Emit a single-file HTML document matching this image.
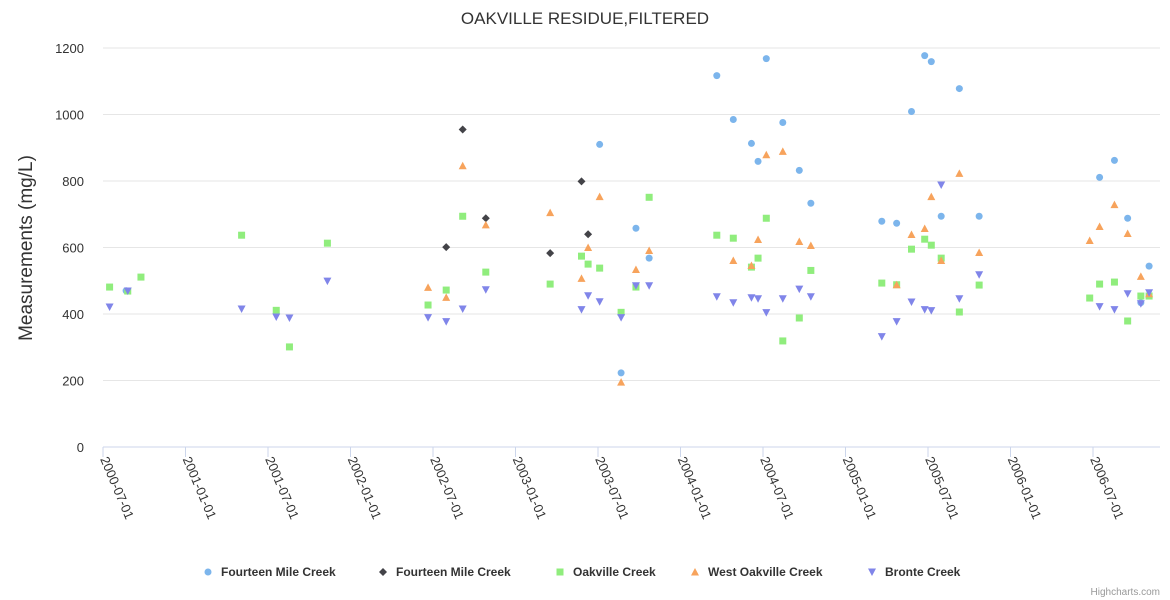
<!DOCTYPE html>
<html><head><meta charset="utf-8">
<style>
body{margin:0;background:#fff;}
svg{display:block;font-family:"Liberation Sans",sans-serif;}
</style></head>
<body>
<svg id="chart" width="1170" height="600">
<text x="585" y="24" text-anchor="middle" font-size="17" fill="#333">OAKVILLE RESIDUE,FILTERED</text>
<text transform="translate(32,248) rotate(-90)" text-anchor="middle" font-size="19" fill="#333">Measurements (mg/L)</text>
<g id="grid"></g><g id="xaxis"></g><g id="series"></g><g id="legend"></g>
<text x="1160" y="595" text-anchor="end" font-size="10" fill="#999">Highcharts.com</text>
</svg>
<script>
const yTicks=[0,200,400,600,800,1000,1200];
const xTickYears=[2000.5,2001,2001.5,2002,2002.5,2003,2003.5,2004,2004.5,2005,2005.5,2006,2006.5];
const xTickLabels=["2000-07-01","2001-01-01","2001-07-01","2002-01-01","2002-07-01","2003-01-01","2003-07-01","2004-01-01","2004-07-01","2005-01-01","2005-07-01","2006-01-01","2006-07-01"];
const seriesNames=["Fourteen Mile Creek","Fourteen Mile Creek","Oakville Creek","West Oakville Creek","Bronte Creek"];
const seriesColors=["#7cb5ec","#434348","#90ed7d","#f7a35c","#8085e9"];
const seriesSymbols=["circle","diamond","square","triangle","triangle-down"];
const fourteenX=[2000.64,2003.51,2003.64,2003.73,2003.81,2004.22,2004.32,2004.43,2004.47,2004.52,2004.62,2004.72,2004.79,2005.22,2005.31,2005.40,2005.48,2005.52,2005.58,2005.69,2005.81,2006.54,2006.63,2006.71,2006.79,2006.84];
const fourteenY=[470,910,223,658,568,1117,985,913,859,1168,976,832,733,679,673,1009,1177,1159,694,1078,694,811,862,688,434,544];
const fourteen2X=[2002.58,2002.68,2002.82,2003.21,2003.40,2003.44];
const fourteen2Y=[601,955,688,583,799,640];
const oakX=[2000.54,2000.65,2000.73,2001.34,2001.55,2001.63,2001.86,2002.47,2002.58,2002.68,2002.82,2003.21,2003.40,2003.44,2003.51,2003.64,2003.73,2003.81,2004.22,2004.32,2004.43,2004.47,2004.52,2004.62,2004.72,2004.79,2005.22,2005.31,2005.40,2005.48,2005.52,2005.58,2005.69,2005.81,2006.48,2006.54,2006.63,2006.71,2006.79,2006.84];
const oakY=[481,469,511,637,411,301,613,427,472,694,526,490,574,550,538,405,481,751,637,628,541,568,688,319,388,531,493,488,595,625,607,568,406,487,448,490,496,379,454,454];
const westX=[2002.47,2002.58,2002.68,2002.82,2003.21,2003.40,2003.44,2003.51,2003.64,2003.73,2003.81,2004.32,2004.43,2004.47,2004.52,2004.62,2004.72,2004.79,2005.31,2005.40,2005.48,2005.52,2005.58,2005.69,2005.81,2006.48,2006.54,2006.63,2006.71,2006.79,2006.84];
const westY=[480,450,846,668,705,507,600,753,195,534,591,561,546,624,879,889,618,606,488,639,657,753,561,823,585,621,663,729,642,513,461];
const bronteX=[2000.54,2000.65,2001.34,2001.55,2001.63,2001.86,2002.47,2002.58,2002.68,2002.82,2003.40,2003.44,2003.51,2003.64,2003.73,2003.81,2004.22,2004.32,2004.43,2004.47,2004.52,2004.62,2004.72,2004.79,2005.22,2005.31,2005.40,2005.48,2005.52,2005.58,2005.69,2005.81,2006.54,2006.63,2006.71,2006.79,2006.84];
const bronteY=[421,469,415,391,388,499,389,377,415,473,413,455,437,389,485,485,452,434,449,446,404,446,475,452,332,377,436,413,410,788,446,518,422,413,461,431,464];
const allX=[fourteenX,fourteen2X,oakX,westX,bronteX];
const allY=[fourteenY,fourteen2Y,oakY,westY,bronteY];

const NS="http://www.w3.org/2000/svg";
const L=103,R=1160,T=48,B=447;
const xMin=2000.5,xMax=2000.5+(R-L)/165;
const xs=v=>L+(v-xMin)/(xMax-xMin)*(R-L);
const ys=v=>B-v/1200*(B-T);
function mk(tag,attrs,parent){const e=document.createElementNS(NS,tag);for(const k in attrs)e.setAttribute(k,attrs[k]);parent.appendChild(e);return e;}
const grid=document.getElementById('grid');
yTicks.forEach(t=>{
  const l=mk('line',{x1:L,x2:R,y1:ys(t),y2:ys(t),stroke:t===0?'#ccd6eb':'#e6e6e6','stroke-width':1},grid);
  
  
  const tx=mk('text',{x:84,y:ys(t)+5,'text-anchor':'end','font-size':13,fill:'#333'},grid);
  tx.textContent=t;
  
  
});
const xa=document.getElementById('xaxis');
xTickYears.forEach((v,i)=>{
  const x=xs(v);
  const tk=mk('line',{x1:x,x2:x,y1:B,y2:B+10,stroke:'#ccd6eb'},xa);
  
  
  const tx=mk('text',{transform:`translate(${x-3},${B+12}) rotate(67)`,'font-size':13,fill:'#333'},xa);
  tx.textContent=xTickLabels[i];
  
  
});
function marker(sym,x,y,color,parent){
  let e;
  if(sym==='circle')e=mk('circle',{cx:x,cy:y,r:3.5,fill:color},parent);
  else if(sym==='diamond')e=mk('path',{d:`M${x},${y-4}L${x+4},${y}L${x},${y+4}L${x-4},${y}Z`,fill:color},parent);
  else if(sym==='square')e=mk('rect',{x:x-3.5,y:y-3.5,width:7,height:7,fill:color},parent);
  else if(sym==='triangle')e=mk('path',{d:`M${x},${y-4}L${x+4},${y+3.5}L${x-4},${y+3.5}Z`,fill:color},parent);
  else e=mk('path',{d:`M${x-4},${y-3.5}L${x+4},${y-3.5}L${x},${y+4}Z`,fill:color},parent);
  return e;
}
const sg=document.getElementById('series');
allX.forEach((arr,s)=>{
  const g=mk('g',{},sg);
  
  
  arr.forEach((xv,i)=>{
    const m=marker(seriesSymbols[s],xs(xv),ys(allY[s][i]),seriesColors[s],g);
    
    
  });
});
const lg=document.getElementById('legend');
const legX=[208,383,560,695,872];
seriesNames.forEach((n,i)=>{
  const g=mk('g',{},lg);
  
  
  marker(seriesSymbols[i],legX[i],572,seriesColors[i],g);
  const t=mk('text',{x:legX[i]+13,y:576,'font-size':12,'font-weight':'bold',fill:'#333'},g);
  t.textContent=n;
});
</script>
</body></html>
